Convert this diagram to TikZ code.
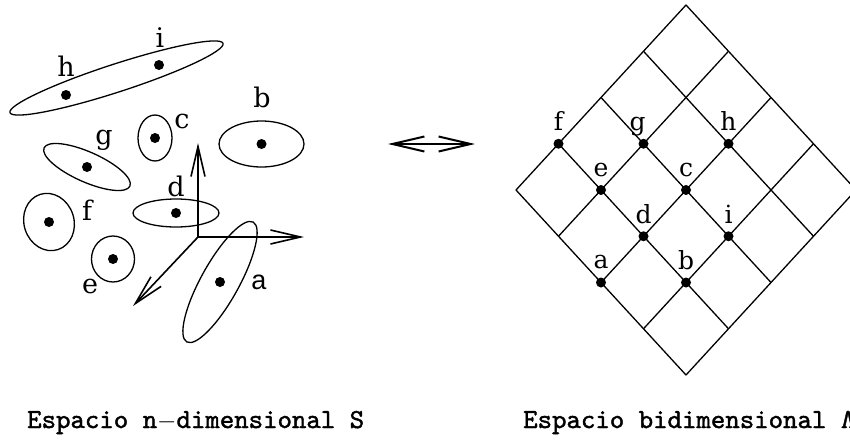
\documentclass[tikz,border=0pt]{standalone}
\usepackage{fontspec}
\newfontfamily\lblfont{DejaVu Serif}
\newfontfamily\lblsans{Liberation Sans}
\newfontfamily\capfont[FakeBold=1.5]{lmmono10-regular.otf}
\usetikzlibrary{arrows.meta,positioning}

\begin{document}
\begin{tikzpicture}[x=1pt,y=-1pt,
    blob/.style={line width=1.3pt},
    cell/.style={line width=1.3pt,line cap=round},
    dot/.style={circle,fill=black,inner sep=0pt,minimum size=10pt},
    lbl/.style={inner sep=0pt,font=\lblfont\fontsize{27}{27}\selectfont},
    gridlbl/.style={inner sep=0pt,anchor=base,font=\lblfont\fontsize{25}{25}\selectfont},
    axis/.style={line width=1.6pt,-{Straight Barb[length=30pt,width=14pt]}},
    captxt/.style={inner sep=0pt,anchor=base west,font=\capfont\fontsize{27.5}{30}\selectfont}]
  \useasboundingbox (0,0) rectangle (850,439);

  % Left panel: clusters in S
  \node[dot] (sh) at (66,95) {};
  \node[dot] (si) at (159,65) {};
  \coordinate (shi) at (116.5,78);
  \draw[blob,rotate around={18:(shi)}] (shi) ellipse (112 and 14);
  \node[dot] (sc) at (155,138) {};
  \draw[blob] (sc) ellipse (17 and 23);
  \node[dot] (sb) at (261.5,144) {};
  \draw[blob] (sb) ellipse (42.5 and 23);
  \node[dot] (sg) at (87,167) {};
  \draw[blob,rotate around={-24:(sg)}] (sg) ellipse (47 and 15);
  \node[dot] (sd) at (176,213) {};
  \draw[blob] (sd) ellipse (43 and 14);
  \node[dot] (sf) at (49,222) {};
  \draw[blob,rotate around={18:(sf)}] (sf) ellipse (25 and 29);
  \node[dot] (se) at (113,259) {};
  \draw[blob] (se) ellipse (21.5 and 23);
  \node[dot] (sa) at (220,282) {};
  \draw[blob,rotate around={61:(sa)}] (sa) ellipse (68.5 and 19);

  \node[lbl] (th) at (66,66) {h};
  \node[lbl] (ti) at (160,38) {i};
  \node[lbl] (tb) at (262,97) {b};
  \node[lbl] (tc) at (182,121) {c};
  \node[lbl] (tg) at (104,140) {g};
  \node[lbl] (td) at (176,186) {d};
  \node[lbl] (tf) at (87,210) {f};
  \node[lbl] (te) at (90,286) {e};
  \node[lbl,font=\lblsans\fontsize{27}{27}\selectfont] (ta) at (259,282) {a};

  % axes
  \coordinate (o) at (198,237);
  \coordinate (ox) at (304,237);
  \coordinate (oy) at (198,143);
  \coordinate (oz) at (133,306);
  \draw[axis] (o) -- (ox);
  \draw[axis] (o) -- (oy);
  \draw[axis] (o) -- (oz);

  % Center: correspondence arrow
  \coordinate (ml) at (388,144);
  \coordinate (mr) at (475,144);
  \draw[line width=2pt,{Straight Barb[length=32pt,width=15pt]}-{Straight Barb[length=32pt,width=15pt]}]
        (ml) -- (mr);

  % Right panel: lattice
  \begin{scope}[shift={(516,190)},x={(42.5pt,-46.25pt)},y={(42.5pt,46.25pt)}]
    \foreach \k in {0,...,4} {
      \draw[cell] (\k,0) -- (\k,4);
      \draw[cell] (0,\k) -- (4,\k);
    }
    \node[dot] (rf) at (0,1) {};
    \node[dot] (re) at (1,1) {};
    \node[dot] (ra) at (2,0) {};
    \node[dot] (rg) at (1,2) {};
    \node[dot] (rd) at (2,1) {};
    \node[dot] (rb) at (3,1) {};
    \node[dot] (rc) at (2,2) {};
    \node[dot] (rh) at (2,3) {};
    \node[dot] (ri) at (3,2) {};
  \end{scope}
  \node[gridlbl] (uf) at ([yshift=13pt]rf) {f};
  \node[gridlbl] (ue) at ([yshift=14pt]re) {e};
  \node[gridlbl] (ua) at ([yshift=14pt]ra) {a};
  \node[gridlbl] (ug) at ([xshift=-6pt,yshift=13pt]rg) {g};
  \node[gridlbl] (ud) at ([yshift=13pt]rd) {d};
  \node[gridlbl] (ub) at ([yshift=13pt]rb) {b};
  \node[gridlbl] (uc) at ([yshift=14pt]rc) {c};
  \node[gridlbl] (uh) at ([yshift=13pt]rh) {h};
  \node[gridlbl] (ui) at ([yshift=13pt]ri) {i};

  % captions
  \node[captxt] (capS) at (27,428) {Espacio n$-$dimensional S};
  \node[captxt] (capL) at (523,428) {Espacio bidimensional Λ};
\end{tikzpicture}
\end{document}
